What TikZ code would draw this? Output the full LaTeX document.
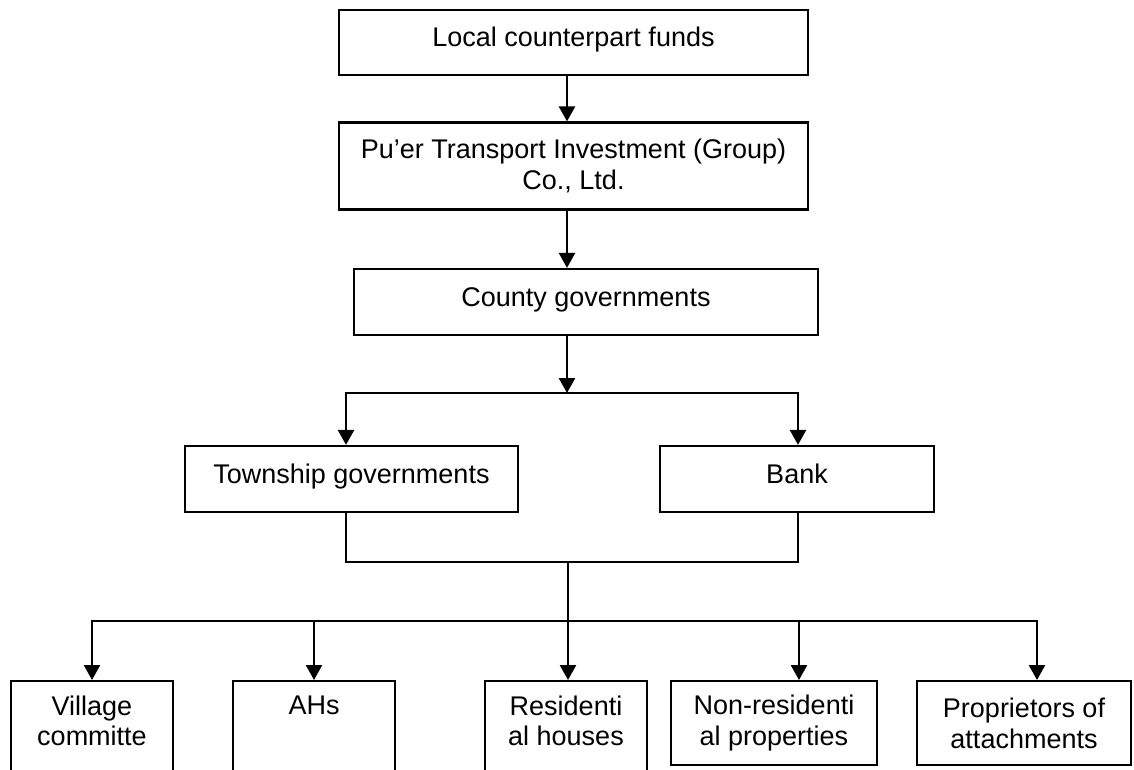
\documentclass[tikz,border=0pt]{standalone}
\usepackage{fontspec}
\setmainfont{Liberation Sans}
\usetikzlibrary{arrows.meta}

\begin{document}
\begin{tikzpicture}[x=1pt, y=-1pt,
    box/.style={draw, line width=2.2pt, align=center, inner sep=4pt,
      font=\fontsize{27}{30.5}\selectfont},
    one/.style={text height=19pt, text depth=11pt},
    leaf/.style={box, anchor=north, minimum height=84pt},
    tall/.style={inner ysep=14.5pt},
    link/.style={line width=2.5pt},
    >={Triangle[length=15pt, width=16pt]}]
    \useasboundingbox (0, 0) rectangle (1134, 769);

    % 上の箱
    \node[box, one, minimum width=469pt, minimum height=65pt] (fund) at (573.5, 42.5) {Local counterpart funds};
    \node[box, minimum width=469pt, minimum height=87pt] (puer) at (573.5, 166) {Pu’er Transport Investment (Group)\\Co., Ltd.};
    \node[box, one, minimum width=464pt, minimum height=66pt] (county) at (586, 302) {County governments};
    \node[box, one, minimum width=333pt, minimum height=66pt] (town) at (351.5, 479) {Township governments};
    \node[box, one, minimum width=274pt, minimum height=66pt] (bank) at (797, 479) {Bank};

    % 下の箱
    \node[leaf, tall, minimum width=162pt] (village) at (92, 680) {Village\\committe\\~};
    \node[leaf, tall, minimum width=162pt] (ahs) at (314, 680) {AHs\\~\\~};
    \node[leaf, tall, minimum width=162pt] (resi) at (566, 680) {Residenti\\al houses\\~};
    \node[leaf, minimum width=206pt] (nonres) at (774, 680) {Non-residenti\\al properties};
    \node[leaf, minimum width=214pt] (prop) at (1024, 680) {Proprietors of\\attachments};

    % 分岐点
    \coordinate (spine) at (567, 0);
    \coordinate (split) at (567, 393);
    \coordinate (merge) at (568, 562);
    \coordinate (dist) at (568, 621);

    % 線を引く
    \draw[link, ->] (fund.south -| spine) -- (puer.north -| spine);
    \draw[link, ->] (puer.south -| spine) -- (county.north -| spine);
    \draw[link, ->] (county.south -| spine) -- (split);
    \draw[link, ->] (split) -| ([xshift=-5.5pt]town.north);
    \draw[link, ->] (split) -| ([xshift=1pt]bank.north);
    \draw[link] ([xshift=-5.5pt]town.south) |- (merge) -| ([xshift=1pt]bank.south);
    \draw[link] (merge) -- (dist);
    \foreach \n/\dx in {village/0pt, ahs/0pt, resi/2pt, nonres/25pt, prop/13pt}
        \draw[link, ->] (dist) -| ([xshift=\dx]\n.north);
\end{tikzpicture}
\end{document}
